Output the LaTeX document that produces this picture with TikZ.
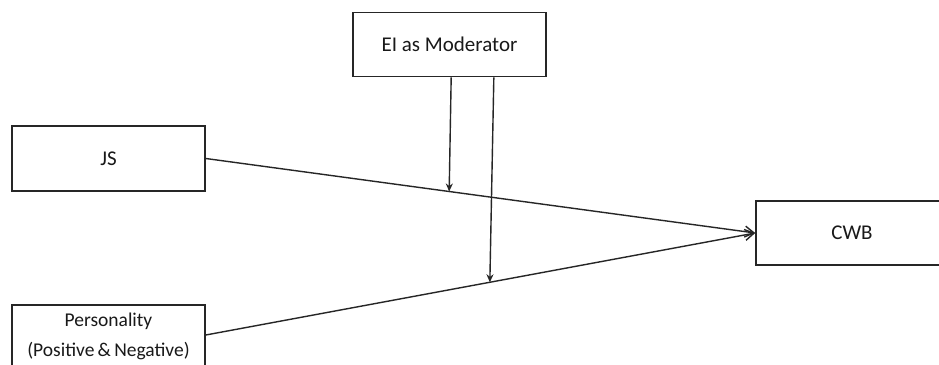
\documentclass[tikz,border=0pt]{standalone}
\usepackage{fontspec}
\setmainfont{Carlito}
\usetikzlibrary{arrows.meta,calc}
\begin{document}
\begin{tikzpicture}[x=1pt,y=-1pt,
  box/.style={draw=black!85, line width=1.6pt, rectangle, fill=white,
    inner sep=0pt, minimum width=193pt, text=black!90},
  label/.style={font=\fontsize{21}{25}\selectfont},
  link/.style={draw=black!85, line width=1.4pt},
  modarrow/.style={link, -{Stealth[length=8pt,width=7pt]}},
  mainarrow/.style={link, -{Straight Barb[length=9pt,width=11pt,line width=1.4pt]}}]
  \useasboundingbox (0,0) rectangle (939,364);
  \clip (0,0) rectangle (939,364);
  \fill[white] (0,0) rectangle (939,364);

  % boxes
  \node[box, label, minimum height=64pt] (ei) at (449.5,44.5) {EI as Moderator};
  \node[box, label, minimum height=65pt] (js) at (108.5,158.5) {JS};
  \node[box, minimum height=62pt, align=center, font=\fontsize{19.5}{30}\selectfont] (pers) at (108.5,336)
    {Personality\\(Positive\,\&\,Negative)};
  \node[box, label, minimum width=192pt, minimum height=64pt] (cwb) at (852,233) {CWB};

  % paths into CWB
  \coordinate (pstart) at ($(pers.east)+(0,-1)$);
  \draw[mainarrow] (js.east) -- (cwb.west);
  \draw[mainarrow] (pstart) -- (cwb.west);

  % moderating effects
  \coordinate (m1) at ($(js.east)!0.443!(cwb.west)$);
  \coordinate (m2) at ($(pstart)!0.517!(cwb.west)$);
  \draw[modarrow] ($(ei.south -| m1)+(2,0)$) -- (m1);
  \draw[modarrow] ($(ei.south -| m2)+(4,0)$) -- (m2);
\end{tikzpicture}
\end{document}
